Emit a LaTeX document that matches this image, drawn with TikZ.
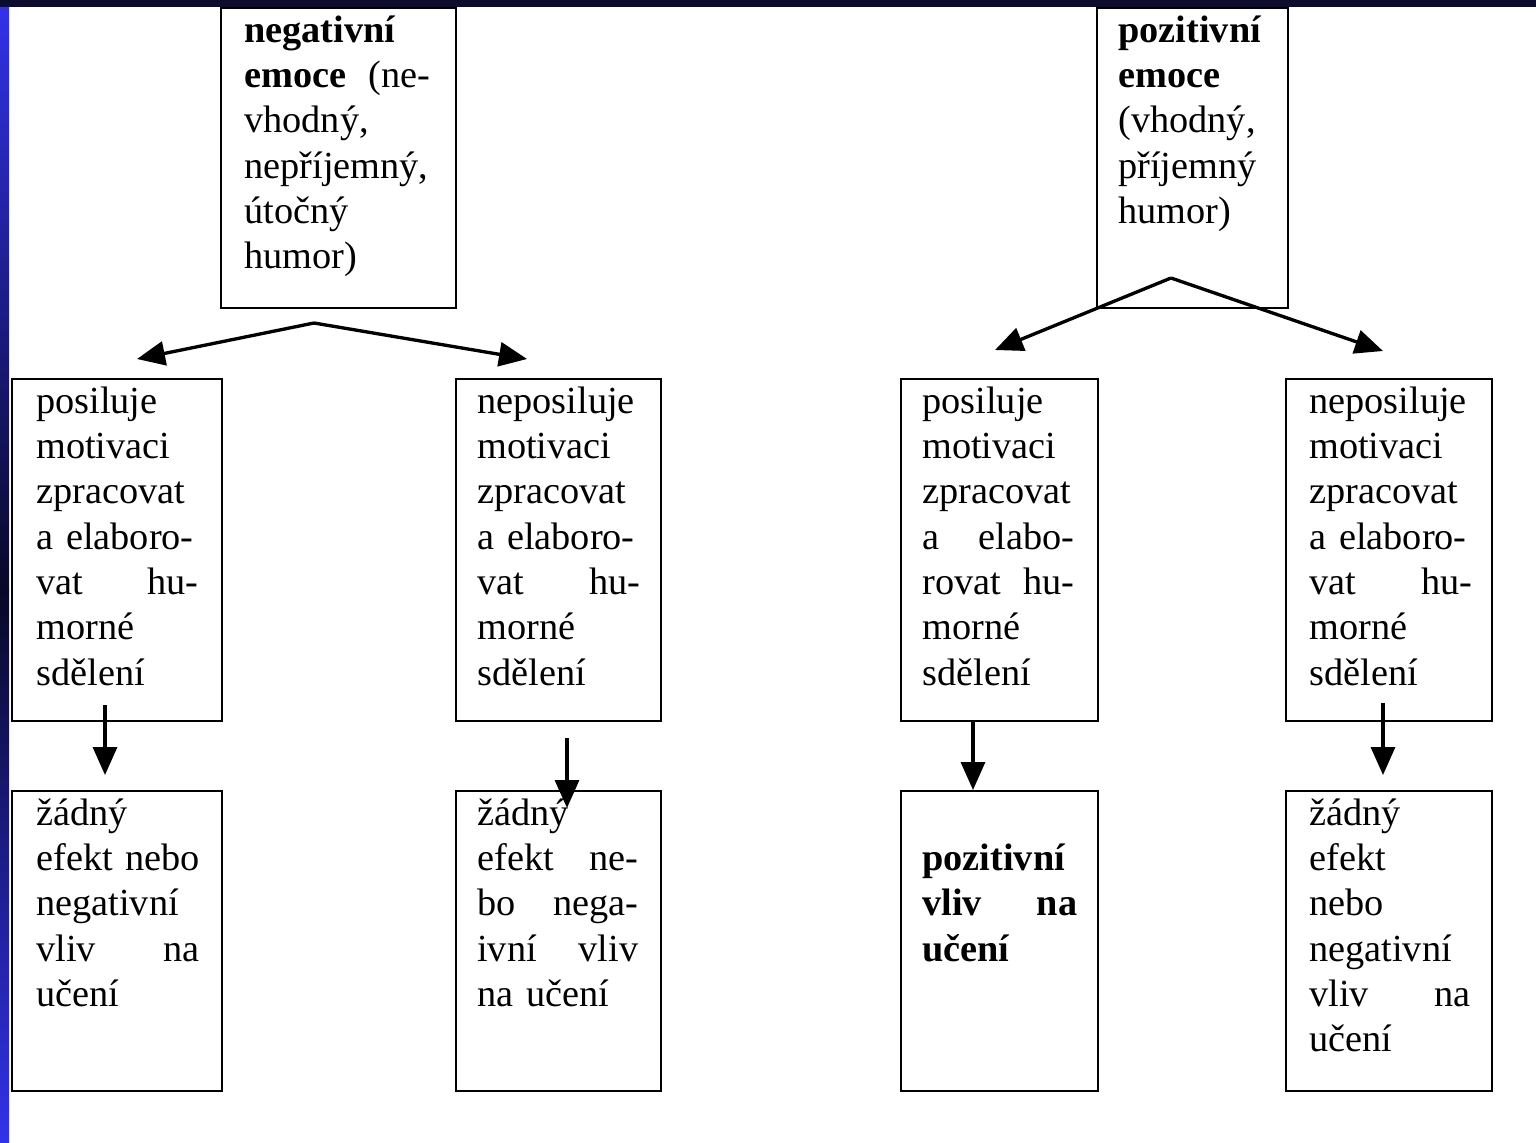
\documentclass[tikz,border=0pt]{standalone}
\usepackage{fontspec}
\setmainfont{Liberation Serif}
\usepackage{tikz}
\usetikzlibrary{arrows.meta}
\definecolor{slidenavy}{RGB}{12,12,46}
\definecolor{slideblue}{RGB}{50,50,235}
\definecolor{slidedark}{RGB}{8,8,40}
\tikzset{%
  every box/.style={
    draw,
    rectangle,
    line width=1.1pt,
    inner sep=0pt,
    anchor=north west
  },
  box text/.style={
    anchor=north west,
    inner sep=0pt,
    align=left,
    xshift=0.46cm,
    yshift=-0.06cm,
    font=\fontsize{21.8pt}{25.8pt}\selectfont
  },
  flow/.style={
    line width=1.9pt,
    ->
  },
}

\begin{document}
\begin{tikzpicture}[> = {Triangle[length=0.56cm,width=0.48cm]}, x=0.02cm, y=-0.02cm]
\useasboundingbox (0,0) rectangle (1536,1143);
\fill[white] (0,0) rectangle (1536,1143);
\shade[top color=slideblue, bottom color=slidedark] (0,0) rectangle (9,590);
\shade[top color=slidedark, bottom color=slideblue] (0,590) rectangle (9,1143);
\fill[slidenavy] (0,0) rectangle (1536,7);

% top boxes
\node[every box, minimum width=235*0.02cm, minimum height=300*0.02cm] (neg) at (220,7) {};
\node[every box, minimum width=191*0.02cm, minimum height=300*0.02cm] (pos) at (1096,7) {};

% middle and bottom rows
\foreach \n/\x/\w in {a/11/210, b/455/205, c/900/197, d/1285/206}
    {\node[every box, minimum width=\w*0.02cm, minimum height=342*0.02cm] (mid_\n) at (\x,378) {};
     \node[every box, minimum width=\w*0.02cm, minimum height=300*0.02cm] (low_\n) at (\x,790) {};}

\node[box text, xshift=0.02cm, text width=3.72cm] (neg_txt) at (neg.north west)
    {\strut\textbf{negativní}\\ \textbf{emoce} \hfill (ne-\\ vhodný,\\ nepříjemný,\\ útočný\\ humor)};
\node[box text, xshift=-0.02cm, text width=3.4cm] (pos_txt) at (pos.north west)
    {\strut\textbf{pozitivní}\\ \textbf{emoce}\\ (vhodný,\\ příjemný\\ humor)};

\node[box text, xshift=0.04cm, text width=3.24cm] (mid_a_txt) at (mid_a.north west)
    {\strut posiluje\\ motivaci\\ zpracovat\\ \mbox{a elaboro-}\\ vat \hfill hu-\\ morné\\ sdělení};
\node[box text, xshift=-0.02cm, text width=3.26cm] (mid_b_txt) at (mid_b.north west)
    {\strut neposiluje\\ motivaci\\ zpracovat\\ \mbox{a elaboro-}\\ vat \hfill hu-\\ morné\\ sdělení};
\node[box text, xshift=-0.02cm, text width=3.04cm] (mid_c_txt) at (mid_c.north west)
    {\strut posiluje\\ motivaci\\ zpracovat\\ a \hfill elabo-\\ rovat \hfill hu-\\ morné\\ sdělení};
\node[box text, xshift=0.02cm, text width=3.26cm] (mid_d_txt) at (mid_d.north west)
    {\strut neposiluje\\ motivaci\\ zpracovat\\ \mbox{a elaboro-}\\ vat \hfill hu-\\ morné\\ sdělení};

\node[box text, xshift=0.04cm, text width=3.26cm] (low_a_txt) at (low_a.north west)
    {\strut žádný\\ \mbox{efekt nebo}\\ negativní\\ vliv \hfill na\\ učení};
\node[box text, xshift=-0.02cm, text width=3.22cm] (low_b_txt) at (low_b.north west)
    {\strut žádný\\ efekt \hfill ne-\\ bo \hfill nega-\\ ivní \hfill vliv\\ na učení};
\node[box text, xshift=-0.02cm, text width=3.1cm] (low_c_txt) at (low_c.north west)
    {\strut\\ \textbf{pozitivní}\\ \textbf{vliv \hfill na}\\ \textbf{učení}};
\node[box text, xshift=0.02cm, text width=3.22cm] (low_d_txt) at (low_d.north west)
    {\strut žádný\\ efekt\\ nebo\\ negativní\\ vliv \hfill na\\ učení};

% split arrows
\coordinate (neg_split) at (314,323);
\coordinate (neg_left) at (137,359);
\coordinate (neg_right) at (527,359);
\coordinate (pos_split) at (1171,278);
\coordinate (pos_left) at (995,350);
\coordinate (pos_right) at (1383,351);
\draw[flow] (neg_split) -- (neg_left);
\draw[flow] (neg_split) -- (neg_right);
\draw[flow] (pos_split) -- (pos_left);
\draw[flow] (pos_split) -- (pos_right);

% down arrows
\foreach \n/\x/\ya/\yb in {a/105/705/775, b/567/738/808, c/973/720/790, d/1383/703/775}
    {\coordinate (from_\n) at (\x,\ya);
     \coordinate (to_\n) at (\x,\yb);
     \draw[flow] (from_\n) -- (to_\n);}
\end{tikzpicture}
\end{document}
